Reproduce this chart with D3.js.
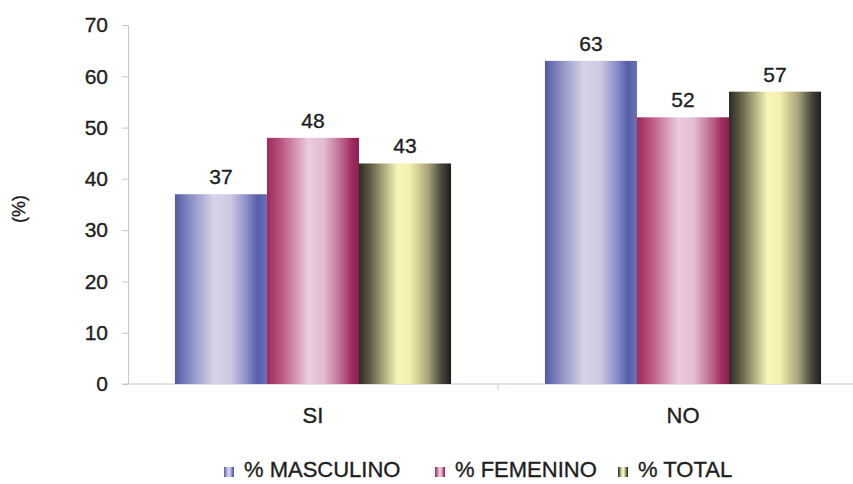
<!DOCTYPE html>
<html>
<head>
<meta charset="utf-8">
<script src="https://cdn.jsdelivr.net/npm/d3@7"></script>
<style>
  html, body { margin: 0; padding: 0; background: #fff; }
  svg { display: block; font-family: "Liberation Sans", Arial, sans-serif; }
  svg text { stroke: #1e1e1e; stroke-width: 0.35px; }
</style>
</head>
<body>
<svg id="chart" width="853" height="484"></svg>
<script>
// Categories, series and values
const categories = ["SI", "NO"];
const seriesNames = ["% MASCULINO", "% FEMENINO", "% TOTAL"];
const masculino = [37, 63];
const femenino = [48, 52];
const total = [43, 57];
const yTicks = [0, 10, 20, 30, 40, 50, 60, 70];

const seriesValues = [masculino, femenino, total];

// Cylinder-style horizontal gradients for each series
const gradients = [
  [[0, "#5259a4"], [0.12, "#7a80bc"], [0.42, "#d8d2e8"], [0.6, "#cfc8e2"], [0.78, "#8a8ec8"], [0.9, "#545ea8"], [1, "#6a70b2"]],
  [[0, "#9e2a5e"], [0.14, "#b8507e"], [0.45, "#ecccdf"], [0.62, "#e2bcd2"], [0.8, "#c06a92"], [0.92, "#a02c60"], [1, "#8a2250"]],
  [[0, "#2a2a22"], [0.12, "#5e5c44"], [0.42, "#f8f6b8"], [0.55, "#f4f0ae"], [0.75, "#a8a47a"], [0.9, "#46443a"], [1, "#1e1e1a"]]
];

const svg = d3.select("#chart");
const plotLeft = 128, plotRight = 868, plotTop = 25, y0 = 384;
const textColor = "#1e1e1e";
const axisColor = "#c6c6d6";

const x = d3.scaleBand().domain(categories).range([plotLeft, plotRight]);
const inner = d3.scaleBand().domain(d3.range(seriesNames.length))
  .range([0, x.bandwidth()]).paddingInner(0).paddingOuter(0.51);
const y = d3.scaleLinear().domain([0, 70]).range([y0, plotTop]);

const defs = svg.append("defs");
gradients.forEach((stops, i) => {
  const g = defs.append("linearGradient").attr("id", "grad" + i)
    .attr("x1", "0%").attr("x2", "100%").attr("y1", "0%").attr("y2", "0%");
  stops.forEach(([o, c]) => g.append("stop").attr("offset", o).attr("stop-color", c));
});

// Y axis
const yAxis = d3.axisLeft(y).tickValues(yTicks).tickSize(6).tickPadding(14);
const gy = svg.append("g").attr("transform", `translate(${plotLeft},0)`).call(yAxis);
gy.select(".domain").attr("stroke", axisColor);
gy.selectAll(".tick line").attr("stroke", axisColor);
gy.selectAll(".tick text").attr("fill", textColor)
  .style("font-size", "21px").style("font-family", "'Liberation Sans', Arial, sans-serif");

// X axis line and category divider
svg.append("line").attr("x1", plotLeft - 6).attr("x2", 853).attr("y1", y0).attr("y2", y0)
  .attr("stroke", axisColor);
svg.append("line").attr("x1", x("NO")).attr("x2", x("NO")).attr("y1", y0).attr("y2", y0 + 6)
  .attr("stroke", axisColor);

// Bars with value labels
const groups = svg.append("g").selectAll("g").data(categories).join("g")
  .attr("transform", d => `translate(${x(d)},0)`);
groups.each(function (cat, ci) {
  const g = d3.select(this);
  seriesValues.forEach((vals, si) => {
    const v = vals[ci];
    g.append("rect")
      .attr("x", inner(si)).attr("width", inner.bandwidth())
      .attr("y", y(v)).attr("height", y0 - y(v))
      .attr("fill", `url(#grad${si})`);
    g.append("text")
      .attr("x", inner(si) + inner.bandwidth() / 2).attr("y", y(v) - 10)
      .attr("text-anchor", "middle").attr("fill", textColor)
      .style("font-size", "21px").text(v);
  });
});

// Category labels
svg.append("g").selectAll("text").data(categories).join("text")
  .attr("x", d => x(d) + x.bandwidth() / 2).attr("y", 423)
  .attr("text-anchor", "middle").attr("fill", textColor).style("font-size", "22px")
  .text(d => d);

// Y axis title
svg.append("text").attr("transform", "translate(25,209) rotate(-90)")
  .attr("text-anchor", "middle").attr("fill", textColor).style("font-size", "18px")
  .text("(%)");

// Legend
const legendX = [224, 435, 618];
const leg = svg.append("g").selectAll("g").data(seriesNames).join("g")
  .attr("transform", (d, i) => `translate(${legendX[i]},467)`);
leg.append("rect").attr("width", 10).attr("height", 10).attr("fill", (d, i) => `url(#grad${i})`);
leg.append("text").attr("x", 20).attr("y", 10).attr("fill", textColor)
  .style("font-size", "22px").text(d => d);
</script>
</body>
</html>
